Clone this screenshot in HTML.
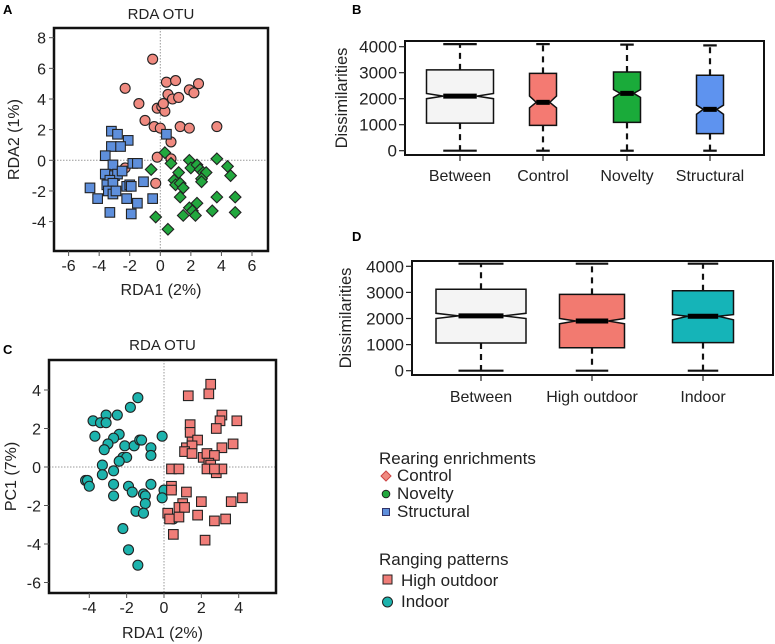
<!DOCTYPE html>
<html><head><meta charset="utf-8">
<style>
html,body{margin:0;padding:0;background:#fff;}
svg{display:block;font-family:"Liberation Sans",Arial,sans-serif;}
</style></head>
<body>
<svg id="fig" width="775" height="644" viewBox="0 0 775 644"></svg>
<script>
// ---------- Panel A data ----------
const aControlX=[-0.5,-2.3,-1.4,-1.0,-0.4,0.0,0.4,1.0,0.5,0.8,1.2,1.9,2.2,2.5,-0.2,0.1,0.3,0.2,1.3,1.9,3.7,0.7,-0.2,0.7,-0.3,-2.3];
const aControlY=[6.6,4.7,3.7,2.6,2.2,2.1,5.1,5.2,4.3,4.0,4.1,4.6,4.4,5.0,3.4,3.5,3.2,3.7,2.2,2.1,2.2,1.2,0.2,0.1,-1.5,-0.5];
const aStructX=[-3.2,-2.8,-2.1,-3.2,-2.6,-3.6,-3.1,-1.8,-1.5,-3.6,-3.0,-2.8,-2.5,-3.3,-3.5,-3.1,-3.4,-3.1,-2.9,-2.2,-2.0,-1.9,-1.1,-4.6,-4.1,-2.2,-1.5,-0.5,-3.3,-1.9,0.4];
const aStructY=[1.9,1.7,1.3,0.9,0.9,0.3,-0.3,-0.2,-0.2,-0.9,-1.0,-0.9,-0.7,-1.3,-1.6,-1.5,-2.0,-2.2,-2.0,-1.7,-1.6,-1.7,-1.4,-1.8,-2.5,-2.5,-2.8,-2.5,-3.4,-3.5,1.7];
const aNovX=[0.3,0.7,-0.6,1.9,2.0,2.4,2.6,2.8,3.0,3.7,4.4,4.6,1.2,0.9,1.0,1.3,1.5,2.7,2.7,1.3,2.4,1.9,2.1,2.3,1.5,3.4,3.7,4.9,4.9,-0.3,0.5];
const aNovY=[0.5,-0.2,-0.6,0.0,-0.5,-0.3,-0.6,-0.8,-0.8,0.1,-0.4,-1.0,-0.8,-1.3,-1.6,-1.5,-1.8,-1.2,-1.4,-2.4,-2.8,-3.1,-3.3,-3.6,-3.6,-3.3,-2.4,-2.4,-3.4,-3.7,-4.5];
const aXTicks=[-6,-4,-2,0,2,4,6];
const aYTicks=[-4,-2,0,2,4,6,8];
// ---------- Panel C data ----------
const cIndoorX=[-1.4,-1.8,-3.1,-2.5,-3.8,-3.4,-3.1,-3.7,-2.4,-2.7,-3.0,-3.2,-2.1,-1.6,-1.3,-1.2,-0.7,-0.7,-2.2,-2.0,-2.4,-3.3,-0.1,-3.3,-2.7,-4.2,-4.1,-4.0,-2.7,-1.9,-1.7,-1.1,-1.0,-0.7,-2.7,-1.0,-1.5,-1.1,0.0,-0.1,-2.2,-1.9,-1.4,0.5];
const cIndoorY=[3.6,3.1,2.7,2.7,2.4,2.3,2.3,1.6,1.7,1.5,1.2,0.9,1.1,1.1,1.4,1.4,1.0,0.6,0.5,0.5,0.3,0.1,1.6,-0.4,-0.2,-0.7,-0.7,-1.0,-0.9,-1.0,-1.3,-1.4,-1.5,-0.9,-1.5,-1.9,-2.3,-2.4,-1.2,-1.6,-3.2,-4.3,-5.1,-2.7];
const cOutX=[2.5,2.4,1.3,3.1,3.0,3.9,2.8,1.4,1.4,1.5,1.8,1.2,1.5,3.1,3.7,1.1,1.5,2.1,2.3,2.7,2.4,2.5,2.8,3.1,2.3,2.7,0.4,0.8,0.4,0.4,1.2,1.0,0.8,1.1,2.0,3.6,4.2,1.8,0.2,0.3,0.8,2.7,3.3,0.5,2.2];
const cOutY=[4.3,3.8,3.7,2.7,2.4,2.4,2.0,2.2,1.8,1.3,1.4,1.0,1.1,1.0,1.2,0.8,0.7,0.5,0.7,0.6,0.2,0.1,-0.3,-0.1,-0.1,-0.1,-0.1,-0.1,-1.0,-1.2,-1.3,-1.9,-2.1,-2.1,-1.8,-1.8,-1.6,-2.5,-2.4,-2.7,-2.6,-2.8,-2.7,-3.5,-3.8];
const cXTicks=[-4,-2,0,2,4];
const cYTicks=[-6,-4,-2,0,2,4];
// ---------- Panel B data ----------
const bCats=["Between","Control","Novelty","Structural"];
const bMin=[0,0,0,0];
const bQ1=[1060,975,1090,655];
const bMed=[2100,1860,2205,1590];
const bQ3=[3110,2975,3025,2900];
const bMax=[4100,4100,4080,4050];
const bNotchLo=[2000,1650,2050,1400];
const bNotchHi=[2200,2100,2350,1750];
const bFill=["#f4f4f4","#f47a72","#1aab3a","#5e93ef"];
const bWidth=[67,27,27,27];
// ---------- Panel D data ----------
const dCats=["Between","High outdoor","Indoor"];
const dMin=[0,0,0];
const dQ1=[1060,880,1075];
const dMed=[2100,1905,2085];
const dQ3=[3120,2925,3065];
const dMax=[4100,4100,4100];
const dNotchLo=[2000,1800,1950];
const dNotchHi=[2200,2000,2150];
const dFill=["#f4f4f4","#f27a70","#15b4b8"];
const dWidth=[90,65,61];
const boxTicks=[0,1000,2000,3000,4000];

const NS="http://www.w3.org/2000/svg";
const svg=document.getElementById('fig');
function el(tag,attrs,parent,text){const e=document.createElementNS(NS,tag);for(const k in attrs)e.setAttribute(k,attrs[k]);if(text!==undefined)e.textContent=text;(parent||svg).appendChild(e);return e;}
function lin(d0,d1,r0,r1){return v=>r0+(v-d0)*(r1-r0)/(d1-d0);}

function txt(x,y,s,size,anchor,parent,name,extra){
  const t=el('text',Object.assign({x:x,y:y,'font-size':size,'text-anchor':anchor||'middle',fill:'#222'},extra||{}),parent,s);
  
  
  return t;
}

function marker(g,shape,cx,cy,fill){
  let m;
  if(shape==='circle'){m=el('circle',{cx:cx,cy:cy,r:5,fill:fill,stroke:'#222','stroke-width':1.1},g);}
  else if(shape==='square'){m=el('rect',{x:cx-4.8,y:cy-4.8,width:9.6,height:9.6,fill:fill,stroke:'#222','stroke-width':1.1},g);}
  else {const r=5.8;m=el('polygon',{points:`${cx},${cy-r} ${cx+r},${cy} ${cx},${cy+r} ${cx-r},${cy}`,fill:fill,stroke:'#222','stroke-width':1.1},g);}
  return m;
}

function scatter(cfg){
  const g=el('g',{});
  
  
  const sx=lin(cfg.x0,cfg.x1,cfg.px0,cfg.px1), sy=lin(cfg.y0,cfg.y1,cfg.py0,cfg.py1);
  const zl=el('line',{x1:cfg.L,x2:cfg.R,y1:sy(0),y2:sy(0),stroke:'#999','stroke-width':1,'stroke-dasharray':'1.5,1.5'},g);
  
  const zv=el('line',{x1:sx(0),x2:sx(0),y1:cfg.T,y2:cfg.B,stroke:'#999','stroke-width':1,'stroke-dasharray':'1.5,1.5'},g);
  
  cfg.series.forEach(s=>{
    const sg=el('g',{},g);
    
    
    for(let i=0;i<s.x.length;i++){
      const m=marker(sg,s.shape,sx(s.x[i]),sy(s.y[i]),s.fill);
      
      
    }
  });
  const frame=el('rect',{x:cfg.L,y:cfg.T,width:cfg.R-cfg.L,height:cfg.B-cfg.T,fill:'none',stroke:'#111','stroke-width':2.5},g);
  
  cfg.xt.forEach(v=>{
    const x=sx(v);
    const tl=el('line',{x1:x,x2:x,y1:cfg.B,y2:cfg.B+5,stroke:'#555','stroke-width':1},g);
    
    txt(x,cfg.B+20,String(v),16,'middle',g,'x-tick-label');
  });
  cfg.yt.forEach(v=>{
    const y=sy(v);
    const tl=el('line',{x1:cfg.L-5,x2:cfg.L,y1:y,y2:y,stroke:'#555','stroke-width':1},g);
    
    txt(cfg.L-8,y+6,String(v),16,'end',g,'y-tick-label');
  });
  txt((cfg.L+cfg.R)/2,cfg.titleY,cfg.title,15,'middle',g,'chart-title');
  txt((cfg.L+cfg.R)/2,cfg.xlabY,cfg.xlab,16,'middle',g,'x-axis-title');
  txt(0,0,cfg.ylab,16,'middle',g,'y-axis-title',{transform:`translate(${cfg.ylabX},${(cfg.T+cfg.B)/2}) rotate(-90)`});
  txt(3,cfg.letterY,cfg.letter,13,'start',g,'panel-label',{'font-weight':'bold',fill:'#000'});
}

scatter({name:'panel-a-scatter',L:54,R:268,T:28,B:251,x0:0,x1:6,px0:160.3,px1:252,y0:0,y1:8,py0:160.3,py1:37.7,
  xt:aXTicks,yt:aYTicks,title:'RDA OTU',titleY:19,xlab:'RDA1 (2%)',xlabY:295,ylab:'RDA2 (1%)',ylabX:19,letter:'A',letterY:14,
  series:[{name:'series-control',x:aControlX,y:aControlY,shape:'circle',fill:'#f08a80'},
          {name:'series-structural',x:aStructX,y:aStructY,shape:'square',fill:'#5e8fdc'},
          {name:'series-novelty',x:aNovX,y:aNovY,shape:'diamond',fill:'#22a83e'}]});

scatter({name:'panel-c-scatter',L:49,R:276,T:360,B:593,x0:0,x1:4,px0:164,px1:238.7,y0:0,y1:4,py0:467,py1:390,
  xt:cXTicks,yt:cYTicks,title:'RDA OTU',titleY:350,xlab:'RDA1 (2%)',xlabY:638,ylab:'PC1 (7%)',ylabX:16,letter:'C',letterY:354,
  series:[{name:'series-indoor',x:cIndoorX,y:cIndoorY,shape:'circle',fill:'#1db3ad'},
          {name:'series-high-outdoor',x:cOutX,y:cOutY,shape:'square',fill:'#f07d78'}]});

function boxplot(cfg){
  const g=el('g',{});
  
  
  const sy=lin(0,4000,cfg.py0,cfg.py4);
  cfg.cats.forEach((c,i)=>{
    const cx=cfg.cx[i], hw=cfg.w[i]/2, cap=cfg.w[i]/4;
    const bg=el('g',{},g);
    
    
    el('line',{x1:cx,x2:cx,y1:sy(cfg.q3[i]),y2:sy(cfg.max[i]),stroke:'#111','stroke-width':2.2,'stroke-dasharray':'6,5'},bg);
    el('line',{x1:cx,x2:cx,y1:sy(cfg.q1[i]),y2:sy(cfg.min[i]),stroke:'#111','stroke-width':2.2,'stroke-dasharray':'6,5'},bg);
    el('line',{x1:cx-cap,x2:cx+cap,y1:sy(cfg.max[i]),y2:sy(cfg.max[i]),stroke:'#111','stroke-width':2.2},bg);
    el('line',{x1:cx-cap,x2:cx+cap,y1:sy(cfg.min[i]),y2:sy(cfg.min[i]),stroke:'#111','stroke-width':2.2},bg);
    const w2=hw*0.5;
    const yq1=sy(cfg.q1[i]),yq3=sy(cfg.q3[i]),ym=sy(cfg.med[i]),ynl=sy(cfg.nlo[i]),ynh=sy(cfg.nhi[i]);
    const pts=[[cx-hw,yq3],[cx+hw,yq3],[cx+hw,ynh],[cx+w2,ym],[cx+hw,ynl],[cx+hw,yq1],[cx-hw,yq1],[cx-hw,ynl],[cx-w2,ym],[cx-hw,ynh]];
    el('polygon',{points:pts.map(p=>p.join(',')).join(' '),fill:cfg.fill[i],stroke:'#111','stroke-width':1.5},bg);
    el('line',{x1:cx-w2,x2:cx+w2,y1:ym,y2:ym,stroke:'#000','stroke-width':5},bg);
    const tk=el('line',{x1:cx,x2:cx,y1:cfg.B,y2:cfg.B+6,stroke:'#222','stroke-width':1.2},g);
    
    txt(cx,cfg.B+cfg.labOff,c,16,'middle',g,'x-tick-label');
  });
  const frame=el('rect',{x:cfg.L,y:cfg.T,width:cfg.R-cfg.L,height:cfg.B-cfg.T,fill:'none',stroke:'#111','stroke-width':2},g);
  
  boxTicks.forEach(v=>{
    const y=sy(v);
    const tl=el('line',{x1:cfg.L-6,x2:cfg.L,y1:y,y2:y,stroke:'#222','stroke-width':1.2},g);
    
    txt(cfg.L-8,y+6,String(v),17,'end',g,'y-tick-label');
  });
  txt(0,0,'Dissimilarities',16.5,'middle',g,'y-axis-title',{transform:`translate(${cfg.ylabX},${(cfg.T+cfg.B)/2}) rotate(-90)`});
  txt(352,cfg.letterY,cfg.letter,13,'start',g,'panel-label',{'font-weight':'bold',fill:'#000'});
}

boxplot({name:'panel-b-boxplot',L:405,R:764,T:41,B:155,py0:150.7,py4:46.7,cats:bCats,cx:[460,543,627,710],w:bWidth,labOff:26,
  min:bMin,q1:bQ1,med:bMed,q3:bQ3,max:bMax,nlo:bNotchLo,nhi:bNotchHi,fill:bFill,ylabX:347,letter:'B',letterY:14});
boxplot({name:'panel-d-boxplot',L:412,R:773,T:261,B:375,py0:370.7,py4:266.3,cats:dCats,cx:[481,592,703],w:dWidth,labOff:27,
  min:dMin,q1:dQ1,med:dMed,q3:dQ3,max:dMax,nlo:dNotchLo,nhi:dNotchHi,fill:dFill,ylabX:351,letter:'D',letterY:241});

// Legend
const lg=el('g',{});


txt(379,464,'Rearing enrichments',17,'start',lg,'legend-title-rearing');
const l1=[['Control','diamond','#f08a80',481],['Novelty','circle','#22a83e',499],['Structural','square','#5e8fdc',517]];
l1.forEach(r=>{
  const gg=el('g',{},lg);
  
  
  if(r[1]==='diamond')el('polygon',{points:`386,${r[3]-10} 391,${r[3]-5} 386,${r[3]} 381,${r[3]-5}`,fill:r[2],stroke:'#c44','stroke-width':1},gg);
  else if(r[1]==='circle')el('circle',{cx:386,cy:r[3]-5,r:3.8,fill:r[2],stroke:'#222','stroke-width':1},gg);
  else el('rect',{x:382.5,y:r[3]-8.5,width:7,height:7,fill:r[2],stroke:'#336','stroke-width':1},gg);
  txt(397,r[3],r[0],17,'start',gg,'legend-label');
});
txt(379,565,'Ranging patterns',17,'start',lg,'legend-title-ranging');
const l2=[['High outdoor','square','#f07d78',586],['Indoor','circle','#1db3ad',607]];
l2.forEach(r=>{
  const gg=el('g',{},lg);
  
  
  if(r[1]==='square')el('rect',{x:383,y:r[3]-11,width:9,height:9,fill:r[2],stroke:'#222','stroke-width':1},gg);
  else el('circle',{cx:387.5,cy:r[3]-5,r:5,fill:r[2],stroke:'#222','stroke-width':1},gg);
  txt(401,r[3],r[0],17,'start',gg,'legend-label');
});
</script>
</body></html>
